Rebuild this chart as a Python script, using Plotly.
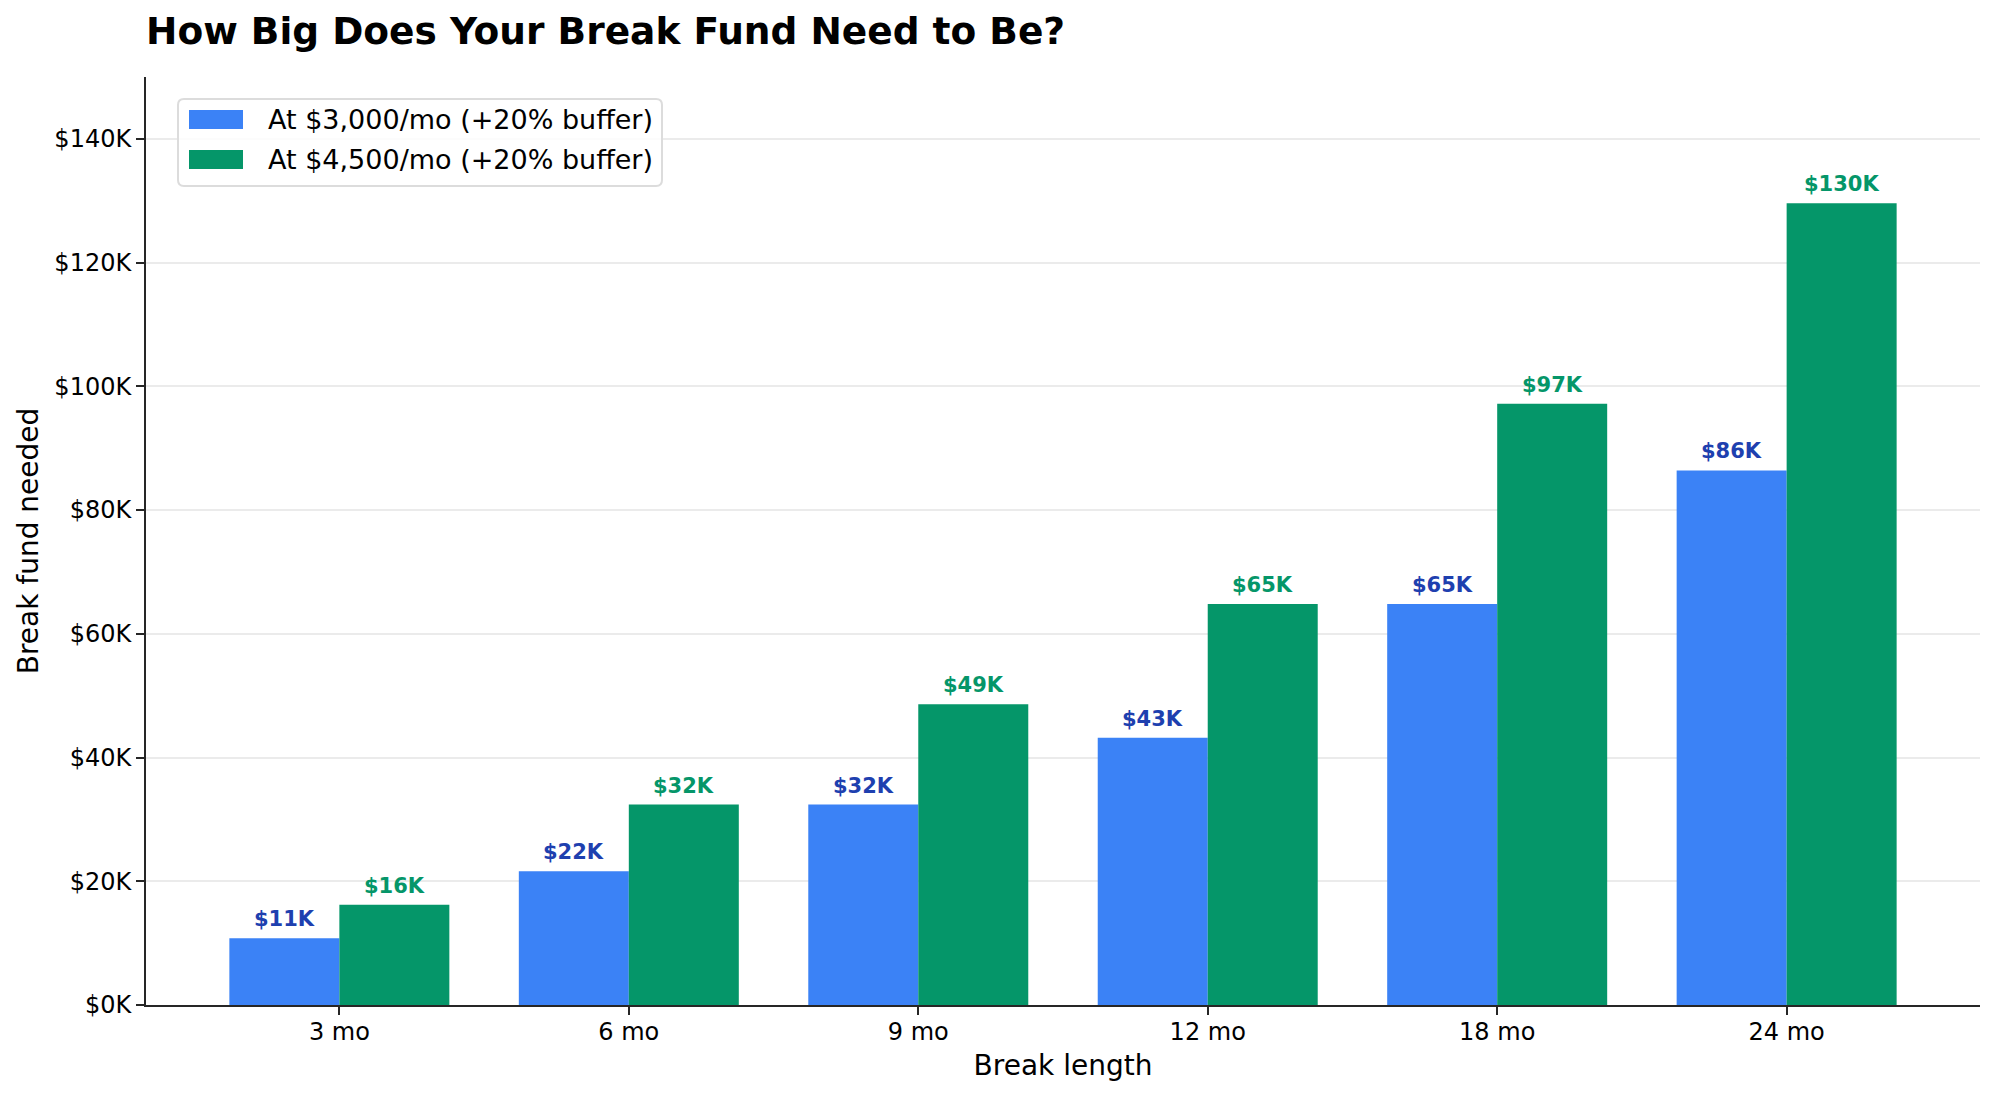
import plotly.graph_objects as go

# data
break_lengths = ['3 mo', '6 mo', '9 mo', '12 mo', '18 mo', '24 mo']
fund_3000 = [10800, 21600, 32400, 43200, 64800, 86400]
fund_4500 = [16200, 32400, 48600, 64800, 97200, 129600]
labels_3000 = ['$11K', '$22K', '$32K', '$43K', '$65K', '$86K']
labels_4500 = ['$16K', '$32K', '$49K', '$65K', '$97K', '$130K']
series_names = ['At $3,000/mo (+20% buffer)', 'At $4,500/mo (+20% buffer)']
y_ticks = [0, 20000, 40000, 60000, 80000, 100000, 120000, 140000]
y_ticklabels = ['$0K', '$20K', '$40K', '$60K', '$80K', '$100K', '$120K', '$140K']

blue = '#3b82f6'
green = '#059669'
blue_text = '#1e40af'
font_family = 'DejaVu Sans'

W, H = 1994, 1094
# the page puts the plot 8px in from the top-left corner
ML, MT = 138, 69
PW, PH = 1834, 927.7


def px(x):
    # page pixel (as seen in the screenshot) -> paper x
    return (x - 8 - ML) / PW


def py(y):
    return 1 - (y - 8 - MT) / PH


fig = go.Figure()
fig.add_trace(go.Bar(x=break_lengths, y=fund_3000, name=series_names[0],
                     marker=dict(color=blue, line=dict(width=0))))
fig.add_trace(go.Bar(x=break_lengths, y=fund_4500, name=series_names[1],
                     marker=dict(color=green, line=dict(width=0))))

# value labels above each bar
bar_px = 55  # half a bar width in pixels, roughly
annotations = []
for cat, v, t in zip(break_lengths, fund_3000, labels_3000):
    annotations.append(dict(x=cat, y=v, xref='x', yref='y', text='<b>' + t + '</b>',
                            showarrow=False, xshift=-bar_px, yshift=5, yanchor='bottom',
                            font=dict(family=font_family, size=21, color=blue_text)))
for cat, v, t in zip(break_lengths, fund_4500, labels_4500):
    annotations.append(dict(x=cat, y=v, xref='x', yref='y', text='<b>' + t + '</b>',
                            showarrow=False, xshift=bar_px, yshift=5, yanchor='bottom',
                            font=dict(family=font_family, size=21, color=green)))

# legend drawn by hand so the patches look like matplotlib's
shapes = []
x0, x1, y0, y1, r = 178, 662, 99, 186, 6
rx, ry = r / PW, r / PH
path = (f'M {px(x0) + rx},{py(y0)} L {px(x1) - rx},{py(y0)} '
        f'Q {px(x1)},{py(y0)} {px(x1)},{py(y0) - ry} '
        f'L {px(x1)},{py(y1) + ry} Q {px(x1)},{py(y1)} {px(x1) - rx},{py(y1)} '
        f'L {px(x0) + rx},{py(y1)} Q {px(x0)},{py(y1)} {px(x0)},{py(y1) + ry} '
        f'L {px(x0)},{py(y0) - ry} Q {px(x0)},{py(y0)} {px(x0) + rx},{py(y0)} Z')
shapes.append(dict(type='path', path=path, xref='paper', yref='paper', layer='above',
                   fillcolor='rgba(255,255,255,0.85)', line=dict(color='#dcdcdc', width=2)))
for i, (name, col) in enumerate(zip(series_names, [blue, green])):
    yc = 119.5 + 40 * i
    shapes.append(dict(type='rect', xref='paper', yref='paper', layer='above',
                       x0=px(189), x1=px(243), y0=py(yc - 9.5), y1=py(yc + 9.5),
                       fillcolor=col, line=dict(width=0)))
    annotations.append(dict(x=px(266), y=py(yc), xref='paper', yref='paper',
                            xanchor='left', yanchor='middle', showarrow=False, text=name,
                            font=dict(family=font_family, size=27, color='black')))

fig.update_layout(
    width=W,
    height=H,
    barmode='group',
    bargap=0.24,
    bargroupgap=0,
    plot_bgcolor='white',
    paper_bgcolor='white',
    showlegend=False,
    font=dict(family=font_family, size=24, color='black'),
    margin=dict(l=ML, r=W - ML - PW, t=MT, b=H - MT - PH, autoexpand=False),
    title=dict(text='<b>How Big Does Your Break Fund Need to Be?</b>',
               font=dict(family=font_family, size=37.5, color='black'),
               x=ML / W, xanchor='left', xref='container',
               y=1 - 23 / H, yanchor='middle', yref='container'),
    xaxis=dict(
        range=[-0.668, 5.668],
        showline=True, linecolor='#262626', linewidth=2,
        ticks='outside', ticklen=8, tickwidth=2, tickcolor='#262626',
        showgrid=False, zeroline=False,
        tickfont=dict(size=24),
        ticklabelstandoff=-4,
        title=dict(text='Break length', font=dict(size=28), standoff=11),
    ),
    yaxis=dict(
        range=[0, 150000],
        tickvals=y_ticks, ticktext=y_ticklabels,
        showline=True, linecolor='#262626', linewidth=2,
        ticks='outside', ticklen=8, tickwidth=2, tickcolor='#262626',
        showgrid=True, gridcolor='#ebebeb', gridwidth=1.7,
        zeroline=False,
        tickfont=dict(size=24),
        ticklabelstandoff=0,
        title=dict(text='Break fund needed', font=dict(size=28), standoff=8),
    ),
    shapes=shapes,
    annotations=annotations,
)

fig.write_html("out.html")
